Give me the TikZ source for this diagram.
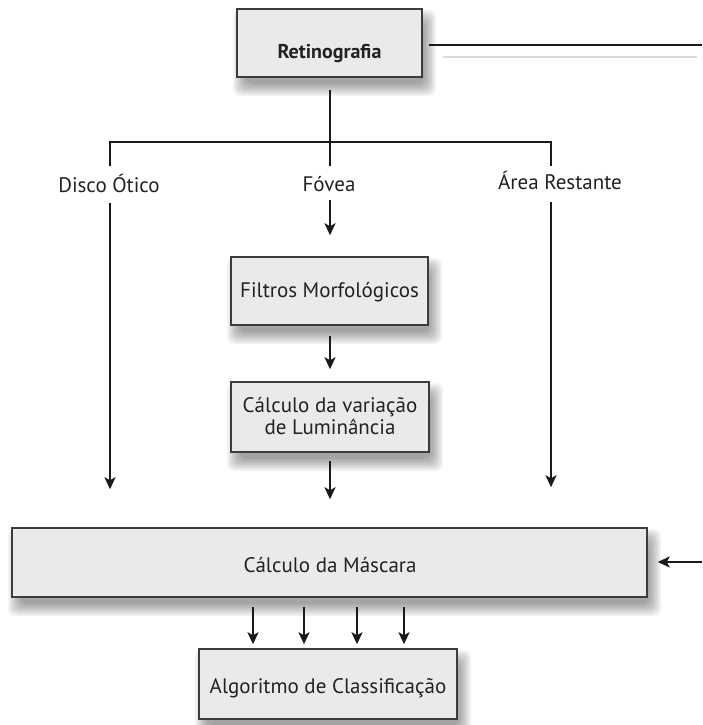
\documentclass[tikz,border=0pt]{standalone}
\usepackage{fontspec}
\setmainfont{PT Sans}
\usetikzlibrary{arrows.meta,calc,backgrounds}
\definecolor{boxfill}{HTML}{EAEAEA}
\definecolor{boxline}{HTML}{3C3C3C}
\definecolor{ink}{HTML}{222222}
\definecolor{wirec}{HTML}{1A1A1A}
\tikzset{
  box/.style={draw=boxline, line width=1.5pt, fill=boxfill, inner sep=0pt},
  txt/.style={text=ink, font=\fontsize{21}{22}\selectfont, align=center, inner sep=0pt},
  btxt/.style={text=ink, font=\fontsize{20}{22}\selectfont\bfseries, align=center, inner sep=0pt},
  wire/.style={draw=wirec, line width=2.8pt},
  arr/.style={wire, -{Stealth[length=12pt,width=11pt,inset=3pt]}},
}
\newcommand\boxshadow[1]{%
  \foreach \r in {-4,-2,0,2,4,6,8}{%
    \fill[black,opacity=0.06,rounded corners=7pt]
      ($(#1.north west)+(5-\r,10-\r)$) rectangle ($(#1.south east)+(5+\r,10+\r)$);}}
\begin{document}
\begin{tikzpicture}[x=1pt,y=-1pt]
\useasboundingbox (0,0) rectangle (702,725);

% boxes
\node[box, minimum width=185pt, minimum height=68pt] (retino) at (329.5,43) {};
\node[box, minimum width=197pt, minimum height=68pt] (filtros) at (329.5,291) {};
\node[box, minimum width=198pt, minimum height=70pt] (calc) at (330,417) {};
\node[box, minimum width=635pt, minimum height=69pt] (mascara) at (329.5,562.5) {};
\node[box, minimum width=258pt, minimum height=70pt] (algo) at (328,684) {};

\begin{scope}[on background layer]
  \fill[white] (0,0) rectangle (702,725);
  \boxshadow{retino}
  \boxshadow{filtros}
  \boxshadow{calc}
  \boxshadow{mascara}
  \boxshadow{algo}
\end{scope}

% texts
\node[btxt, anchor=base] (retinotxt) at (329.5,59) {Retinografia};
\node[txt, anchor=base] (filtrostxt) at (329.5,297) {Filtros Morfológicos};
\node[txt, anchor=base] (calctxtA) at (330,412) {Cálculo da variação};
\node[txt, anchor=base] (calctxtB) at (330,434) {de Luminância};
\node[txt, anchor=base] (mascaratxt) at (330,572) {Cálculo da Máscara};
\node[txt, anchor=base] (algotxt) at (328,693) {Algoritmo de Classificação};

% branch labels
\node[txt, anchor=base] (disco) at (109,192) {Disco Ótico};
\node[txt, anchor=base] (fovea) at (329,191) {Fóvea};
\node[txt, anchor=base] (area) at (560,189) {Área Restante};

% free ends
\coordinate (barL) at (110,142);
\coordinate (barC) at (330,142);
\coordinate (barR) at (551,142);
\coordinate (dL) at (110,166);
\coordinate (dC) at (330,166);
\coordinate (dR) at (551,166);
\coordinate (rout) at (702,45);
\coordinate (rin) at (702,562);

% top right line and its shadow
\draw[line width=2.2pt, black!14] ($(retino.east|-rout)+(20,12)$) -- ($(rout)+(-5,12)$);
\draw[wire] ($(retino.east|-rout)+(6,0)$) -- (rout);

% tree
\draw[wire] ($(retino.south-|barC)+(0,12)$) -- (dC);
\draw[wire] (dL) -- (barL) -- (barR) -- (dR);

% arrows
\draw[arr] ($(disco.base-|barL)+(0,11)$) -- ($(mascara.north-|barL)+(0,-38)$);
\draw[arr] ($(area.base-|barR)+(0,13)$) -- ($(mascara.north-|barR)+(0,-40)$);
\draw[arr] ($(fovea.base-|barC)+(0,9)$) -- ($(filtros.north-|barC)+(0,-21)$);
\draw[arr] ($(filtros.south-|barC)+(0,10)$) -- ($(calc.north-|barC)+(0,-12)$);
\draw[arr] ($(calc.south-|barC)+(0,8)$) -- ($(mascara.north-|barC)+(0,-28)$);
\draw[arr] (rin) -- ($(mascara.east|-rin)+(10,0)$);
\foreach \xx in {253,304,357,404}{
  \draw[arr] ($(mascara.south)+(\xx-329.5,9)$) -- ($(algo.north)+(\xx-328,-4)$);
}
\end{tikzpicture}
\end{document}
